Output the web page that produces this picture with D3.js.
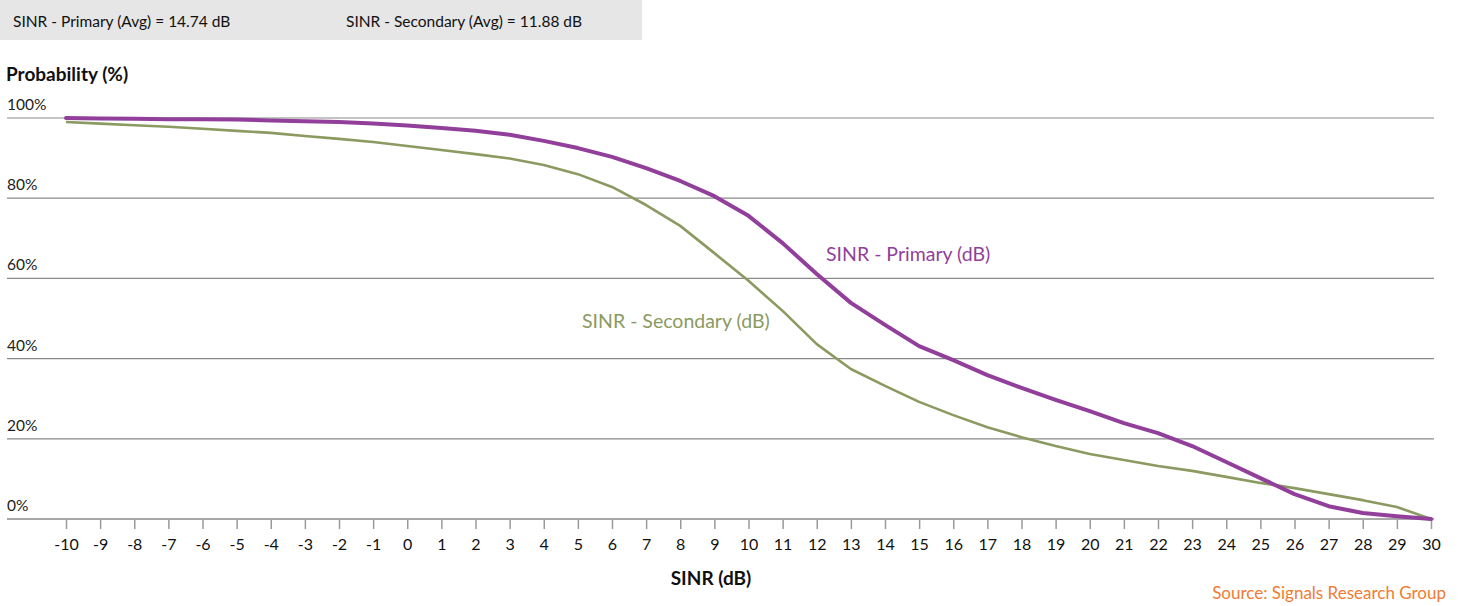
<!DOCTYPE html>
<html>
<head>
<meta charset="utf-8">
<script src="https://cdn.jsdelivr.net/npm/d3@7"></script>
<style>
  html, body { margin: 0; padding: 0; background: #fff; }
  svg { display: block; font-family: Lato, "Open Sans", sans-serif; }
</style>
</head>
<body>
<svg id="chart" width="1461" height="606"></svg>
<script>
// SINR bins (dB)
const sinrBins = d3.range(-10, 31);
// Cumulative probability (%) that SINR exceeds each bin
const primaryPct = [100, 99.9, 99.8, 99.7, 99.7, 99.6, 99.4, 99.2, 99.0, 98.6,
  98.1, 97.5, 96.8, 95.8, 94.3, 92.5, 90.3, 87.5, 84.3, 80.5,
  75.6, 68.8, 61.1, 53.9, 48.4, 43.1, 39.6, 35.9, 32.7, 29.7,
  26.9, 23.9, 21.4, 18.2, 14.2, 10.2, 6.2, 3.2, 1.5, 0.7, 0];
const secondaryPct = [99.0, 98.6, 98.2, 97.8, 97.3, 96.8, 96.3, 95.5, 94.8, 94.0,
  93.0, 92.0, 91.0, 89.9, 88.3, 86.0, 82.8, 78.3, 73.1, 66.3,
  59.4, 51.9, 43.6, 37.4, 33.2, 29.2, 25.9, 22.9, 20.4, 18.2,
  16.2, 14.7, 13.2, 12.0, 10.5, 9.0, 7.7, 6.2, 4.7, 3.0, 0];
const yTicks = [0, 20, 40, 60, 80, 100];
const avgLabels = ["SINR - Primary (Avg) = 14.74 dB", "SINR - Secondary (Avg) = 11.88 dB"];
const seriesNames = ["SINR - Primary (dB)", "SINR - Secondary (dB)"];

const svg = d3.select("#chart");
const x = d3.scaleLinear().domain([-10, 30]).range([66, 1431]);
const y = d3.scaleLinear().domain([0, 100]).range([519, 118]);
const gridLeft = 7, gridRight = 1434;

// Averages banner
svg.append("rect").attr("x", 0).attr("y", 0).attr("width", 642).attr("height", 40).attr("fill", "#e6e6e6");
svg.append("text").attr("x", 13).attr("y", 27).attr("font-size", 15.5).attr("fill", "#111").text(avgLabels[0]);
svg.append("text").attr("x", 346).attr("y", 27).attr("font-size", 15.5).attr("fill", "#111").text(avgLabels[1]);

// Y axis title
svg.append("text").attr("x", 6).attr("y", 81).attr("font-size", 19).attr("font-weight", "bold")
  .attr("fill", "#111").text("Probability (%)");

// Horizontal gridlines with labels above them
const yg = svg.append("g");
yTicks.filter(t => t > 0).forEach(t => {
  yg.append("line").attr("x1", gridLeft).attr("x2", gridRight)
    .attr("y1", y(t)).attr("y2", y(t)).attr("stroke", "#8a8a8a").attr("stroke-width", 1.2);
});
yTicks.forEach(t => {
  yg.append("text").attr("x", 7).attr("y", y(t) - 8).attr("font-size", 15.5).attr("fill", "#222").text(t + "%");
});

// X axis
const xAxis = d3.axisBottom(x).tickValues(sinrBins).tickSize(10).tickPadding(10).tickFormat(d3.format("d"));
const xg = svg.append("g").attr("transform", `translate(0,${y(0)})`).call(xAxis);
xg.select(".domain").remove();
xg.selectAll(".tick line").attr("stroke", "#9a9a9a").attr("stroke-width", 1.5);
xg.selectAll(".tick text").attr("font-size", 16).attr("fill", "#111").attr("font-family", "Lato, sans-serif")
  .text(d => d < 0 ? "-" + Math.abs(d) : d);
svg.append("line").attr("x1", gridLeft).attr("x2", gridRight).attr("y1", y(0)).attr("y2", y(0))
  .attr("stroke", "#a8a8a8").attr("stroke-width", 2);

svg.append("text").attr("x", 711).attr("y", 585).attr("text-anchor", "middle").attr("font-size", 19)
  .attr("font-weight", "bold").attr("fill", "#111").text("SINR (dB)");

// Series lines
const line = d3.line().x((d, i) => x(sinrBins[i])).y(d => y(d));
svg.append("path").datum(secondaryPct).attr("d", line).attr("fill", "none")
  .attr("stroke", "#8a9a60").attr("stroke-width", 2.6).attr("stroke-linejoin", "round");
svg.append("path").datum(primaryPct).attr("d", line).attr("fill", "none")
  .attr("stroke", "#913f9b").attr("stroke-width", 4).attr("stroke-linejoin", "round").attr("stroke-linecap", "round");

// Series labels
svg.append("text").attr("x", 826).attr("y", 261).attr("font-size", 19.5).attr("fill", "#913f9b").text(seriesNames[0]);
svg.append("text").attr("x", 582).attr("y", 328).attr("font-size", 19.5).attr("fill", "#8a9a60").text(seriesNames[1]);

// Source
svg.append("text").attr("x", 1446).attr("y", 599).attr("text-anchor", "end").attr("font-size", 17)
  .attr("fill", "#f07b33").text("Source: Signals Research Group");
</script>
</body>
</html>
